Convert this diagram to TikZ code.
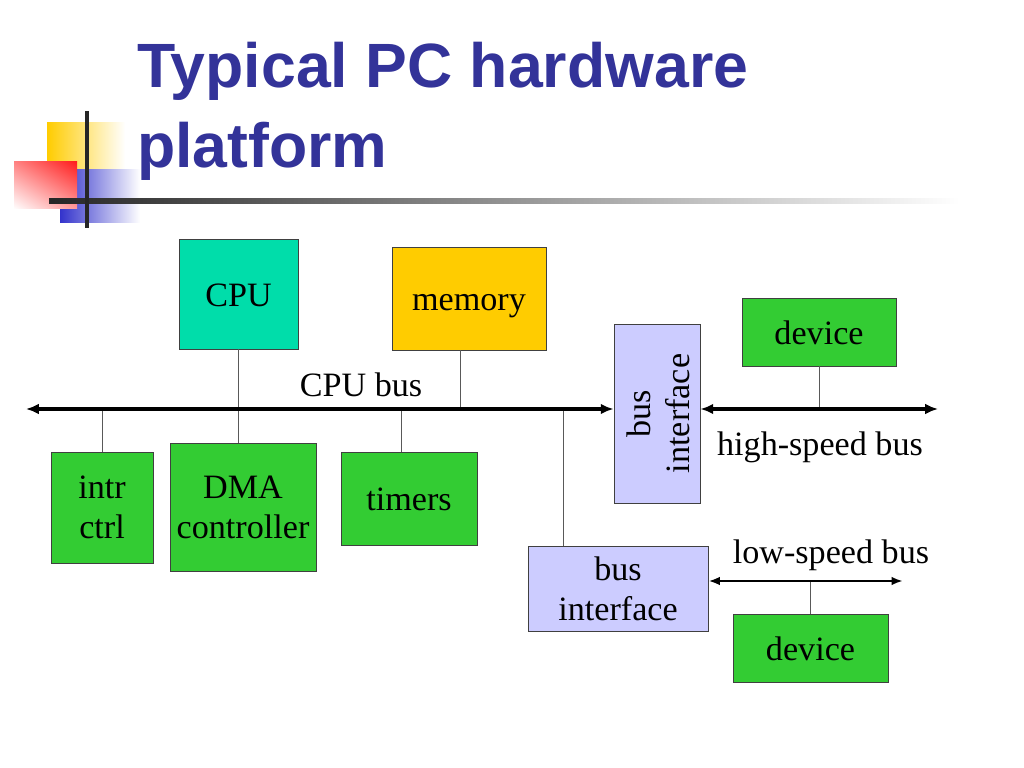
\documentclass[tikz,border=0pt]{standalone}
\usepackage{fontspec}
\setmainfont{Liberation Serif}
\newfontfamily\titlefont{Liberation Sans}
\usepackage{graphicx}
\usepackage{tikz}
\usetikzlibrary{arrows.meta,calc,shadings}
\newcommand{\pxu}{0.703125pt}
\definecolor{titleblue}{RGB}{51,51,153}
\definecolor{decoyellow}{RGB}{255,204,0}
\definecolor{decoblue}{RGB}{51,51,204}
\definecolor{decored}{RGB}{255,30,30}
\definecolor{cpugreen}{RGB}{0,221,170}
\definecolor{memyellow}{RGB}{255,204,0}
\definecolor{devgreen}{RGB}{51,204,51}
\definecolor{buslilac}{RGB}{204,204,255}

\begin{document}
\begin{tikzpicture}[x=0.703125pt, y=-0.703125pt,
		box/.style={draw=black!75, line width=0.6pt, inner sep=0pt, align=center, font=\fontsize{24}{28}\selectfont},
		oneline/.style={text height=22pt, text depth=5pt},
		link/.style={draw=black!65, line width=0.7pt},
		bigbus/.style={<->, >={Latex[length=9pt,width=7.5pt]}, line width=2.8pt},
		smallbus/.style={<->, >={Latex[length=8pt,width=6pt]}, line width=2pt},
		buslabel/.style={anchor=base, inner sep=0pt, font=\fontsize{24}{28}\selectfont}]
	
	\useasboundingbox (0,0) rectangle (1024,768);
	
	\begin{scope}
		
		\shade[left color=decoyellow, middle color=decoyellow, right color=white] (47,123) rectangle (125,172);
		\shade[left color=decoblue, middle color=decoblue, right color=white] (60,170) rectangle (140,223);
		\shade[upper right=decored, lower left=white, upper left=decored!55, lower right=decored!45] (14,162) rectangle (77,209);
		
		\shade[left color=black!85, middle color=black!35, right color=white] (49,199) rectangle (960,204);
		\draw[line width=2.5pt, black!85] (87,111) -- (87,228);
		
		\node (title) at (137,168)[anchor=base west, inner sep=0pt, align=left, text=titleblue, font=\titlefont\bfseries\fontsize{44}{56.25}\selectfont] {Typical PC hardware\\platform};
	\end{scope}
	
	\node (cpu) at (238.5,294)[box, oneline, fill=cpugreen, minimum width=119*\pxu, minimum height=110*\pxu] {CPU};
	\node (mem) at (469,298.5)[box, oneline, fill=memyellow, minimum width=154*\pxu, minimum height=103*\pxu] {memory};
	\node (intr) at (102,507.5)[box, fill=devgreen, minimum width=102*\pxu, minimum height=111*\pxu] {intr\\ctrl};
	\node (dma) at (243,507)[box, fill=devgreen, minimum width=146*\pxu, minimum height=128*\pxu] {DMA\\controller};
	\node (timers) at (409,498.5)[box, oneline, fill=devgreen, minimum width=136*\pxu, minimum height=93*\pxu] {timers};
	\node (busv) at (657,413.5)[box, fill=buslilac, minimum width=86*\pxu, minimum height=179*\pxu] {\makebox[56pt]{\hspace*{7pt}\rotatebox{90}{\begin{tabular}{@{}c@{}}bus\\interface\end{tabular}}}};
	\node (busb) at (618,588.5)[box, fill=buslilac, minimum width=180*\pxu, minimum height=85*\pxu] {bus\\interface};
	\node (dev1) at (819,332)[box, oneline, fill=devgreen, minimum width=154*\pxu, minimum height=68*\pxu] {device};
	\node (dev2) at (810.5,648)[box, oneline, fill=devgreen, minimum width=155*\pxu, minimum height=68*\pxu] {device};
	
	\coordinate (cpubus) at (26,409);
	\coordinate (hsend) at (938,409);
	\coordinate (lsend) at (903,581);
	\coordinate (memtap) at ([xshift=-9*\pxu]mem.south);
	\coordinate (timertap) at ([xshift=-8*\pxu]timers.north);
	\coordinate (bustap) at ([xshift=-55*\pxu]busb.north);
	
	\draw[link] (cpu.south) -- (cpu.south |- dma.north);
	\draw[link] (memtap) -- (memtap |- cpubus);
	\draw[link] (intr.north) -- (intr.north |- cpubus);
	\draw[link] (timertap) -- (timertap |- cpubus);
	\draw[link] (bustap) -- (bustap |- cpubus);
	\draw[link] (dev1.south) -- (dev1.south |- hsend);
	\draw[link] (dev2.north) -- (dev2.north |- lsend);
	
	\draw[bigbus] (cpubus) -- (cpubus -| busv.west);
	\draw[bigbus] (hsend -| busv.east) -- (hsend);
	\draw[smallbus] (lsend -| busb.east) -- (lsend);
	
	\node (cpubuslbl) at (361,396)[buslabel] {CPU bus};
	\node (hslbl) at (820,455)[buslabel] {high-speed bus};
	\node (lslbl) at (831,563)[buslabel] {low-speed bus};
	
\end{tikzpicture}
\end{document}
